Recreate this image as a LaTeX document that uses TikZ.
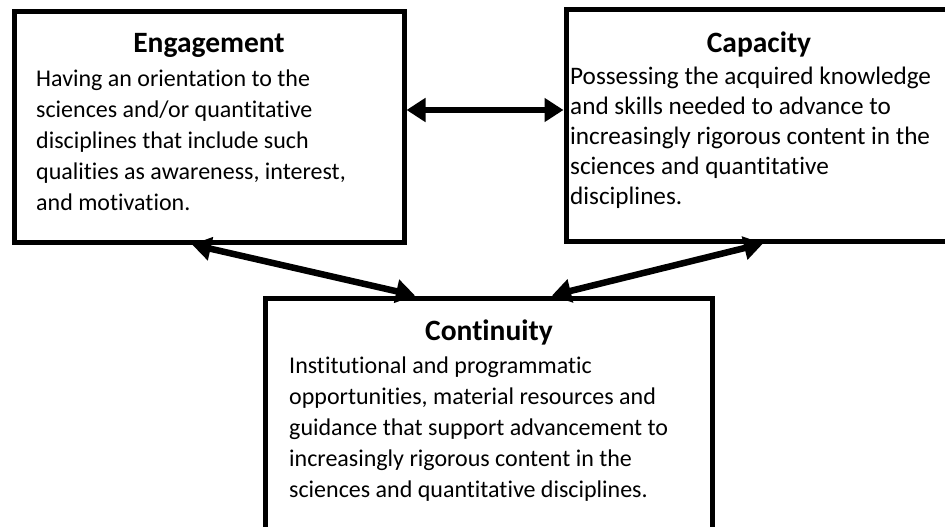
\documentclass[tikz,border=0pt]{standalone}
\usepackage{fontspec}
\setmainfont{Carlito}[Ligatures=NoCommon]
\usepackage{tikz}
\usetikzlibrary{positioning, arrows.meta}

\begin{document}
\begin{tikzpicture}[x=1pt, y=-1pt,
    box/.style={draw, line width=5pt, inner sep=0pt},
    heading/.style={anchor=base, font=\fontsize{29.5}{34}\selectfont\bfseries},
    blurb/.style={anchor=north west, align=left, inner sep=0pt,
                  font=\fontsize{24}{30.8}\selectfont},
    twoway/.style={line width=6.5pt, {Triangle[length=19pt,width=23pt]}-{Triangle[length=19pt,width=23pt]}}]
  \useasboundingbox (0,0) rectangle (945,527);

  % the three boxes
  \node[box, minimum width=390pt, minimum height=230pt] (eng) at (209,127) {};
  \node[box, minimum width=386pt, minimum height=231pt] (cap) at (759,125.5) {};
  \node[box, minimum width=447pt, minimum height=262pt] (cont) at (488.5,429) {};

  \node[heading] (engtitle) at (209,53) {Engagement};
  \node[blurb] (engtext) at (36,70) {Having an orientation to the\\
    sciences and/or quantitative\\
    disciplines that include such\\
    qualities as awareness, interest,\\
    and motivation.};

  \node[heading] (captitle) at (759,53) {Capacity};
  \node[blurb, font=\fontsize{25.2}{30}\selectfont] (captext) at (570,66.5) {Possessing the acquired knowledge\\
    and skills needed to advance to\\
    increasingly rigorous content in the\\
    sciences and quantitative\\
    disciplines.};

  \node[heading] (conttitle) at (489,340) {Continuity};
  \node[blurb] (conttext) at (289,357) {Institutional and programmatic\\
    opportunities, material resources and\\
    guidance that support advancement to\\
    increasingly rigorous content in the\\
    sciences and quantitative disciplines.};

  % links
  \draw[twoway] (eng.east |- 0,110) -- (cap.west |- 0,110);
  \draw[twoway] (eng.south -| 192,0) -- (cont.north -| 415,0);
  \draw[twoway] (cap.south -| 763,0) -- (cont.north -| 552,0);
\end{tikzpicture}
\end{document}
